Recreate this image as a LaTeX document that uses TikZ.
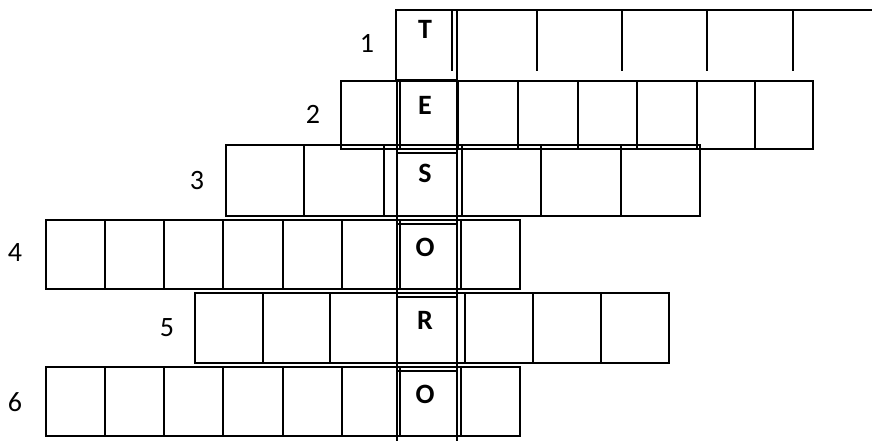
\documentclass[tikz,border=0pt]{standalone}
\usepackage{fontspec}
\setmainfont{Carlito}
\usetikzlibrary{positioning}

\begin{document}
\begin{tikzpicture}[
    x=0.75pt, y=-0.75pt,
    grid/.style={line width=1.4pt, line cap=rect},
    num/.style={font=\fontsize{21}{24}\selectfont, inner sep=0pt},
    letter/.style={font=\fontsize{21}{24}\selectfont\bfseries,
                   inner sep=0pt, anchor=north},
]
\useasboundingbox (0,0) rectangle (872,441);

% ================================================================
%  ROW 1 (open at the bottom, runs off to the right)
% ================================================================

\draw[grid] (872,10) -- (396,10) -- (396,80) -- (457,80) -- (457,10);
\foreach \x in {452,537,622,707,793}
    \draw[grid] (\x,10) -- (\x,70);

% ================================================================
%  ROWS 2--6
% ================================================================

% row 2
\draw[grid] (341,81) rectangle (813,149);
\foreach \x in {400,458,518,578,637,697,755}
    \draw[grid] (\x,81) -- (\x,149);

% row 3
\draw[grid] (226,145) rectangle (700,216);
\foreach \x in {304,384,462,541,621}
    \draw[grid] (\x,145) -- (\x,216);

% row 4
\draw[grid] (46,220) rectangle (520,289);
\foreach \x in {105,164,223,283,342,400,461}
    \draw[grid] (\x,220) -- (\x,289);

% row 5
\draw[grid] (195,293) rectangle (669,363);
\foreach \x in {263,330,465,533,601}
    \draw[grid] (\x,293) -- (\x,363);

% row 6
\draw[grid] (46,367) rectangle (520,436);
\foreach \x in {105,164,223,283,342,400,461}
    \draw[grid] (\x,367) -- (\x,436);

% ================================================================
%  KEY COLUMN (TESORO)
% ================================================================

\draw[grid] (397,80) -- (397,441);
\draw[grid] (457,80) -- (457,441);
\foreach \y in {153,224,297,371}
    \draw[grid] (397,\y) -- (457,\y);

\node[letter] (lT)  at (425,20)  {T};
\node[letter] (lE)  at (425,96)  {E};
\node[letter] (lS)  at (425,164) {S};
\node[letter] (lO1) at (425,238) {O};
\node[letter] (lR)  at (425,311) {R};
\node[letter] (lO2) at (425,385) {O};

% row numbers
\node[num] (n1) at (367,43)  {1};
\node[num] (n2) at (313,114) {2};
\node[num] (n3) at (197,181) {3};
\node[num] (n4) at (15,253)  {4};
\node[num] (n5) at (167,328) {5};
\node[num] (n6) at (15,402)  {6};

\end{tikzpicture}
\end{document}
